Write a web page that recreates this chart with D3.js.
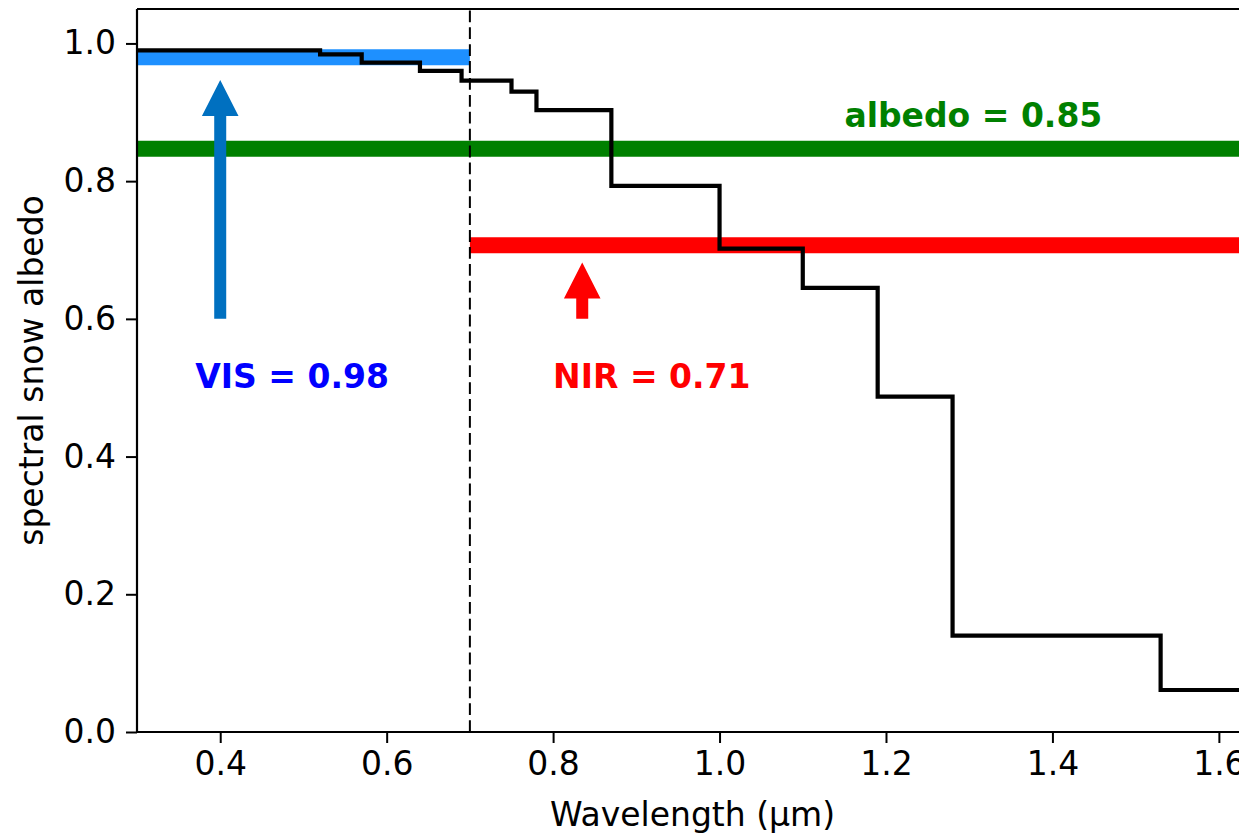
<!DOCTYPE html>
<html>
<head>
<meta charset="utf-8">
<script src="https://cdn.jsdelivr.net/npm/d3@7"></script>
<style>
  html, body { margin: 0; padding: 0; background: #fff; overflow: hidden; }
  svg { display: block; font-family: "DejaVu Sans", sans-serif; }
</style>
</head>
<body>
<svg id="chart" width="1239" height="835"></svg>
<script>
// ---- data ----
const stepEdges  = [0.30, 0.52, 0.57, 0.64, 0.69, 0.75, 0.78, 0.87, 1.00, 1.10, 1.19, 1.28, 1.53, 1.70];
const stepAlbedo = [0.990, 0.984, 0.972, 0.960, 0.946, 0.930, 0.903, 0.793, 0.702, 0.645, 0.487, 0.140, 0.061];
const xTicks = [0.4, 0.6, 0.8, 1.0, 1.2, 1.4, 1.6];
const yTicks = [0.0, 0.2, 0.4, 0.6, 0.8, 1.0];
const bandNames  = ["VIS", "NIR", "broadband"];
const bandValues = [0.980, 0.707, 0.847];
const bandStart  = [0.30, 0.70, 0.30];
const bandEnd    = [0.70, 1.70, 1.70];
const bandColors = ["#1e90ff", "#ff0000", "#008000"];
const splitWavelength = 0.7;
const arrowX    = [0.40, 0.835];
const arrowFrom = [0.60, 0.60];
const arrowTo   = [0.947, 0.682];
const arrowColors = ["#0070c0", "#ff0000"];
const labelTexts  = ["VIS = 0.98", "NIR = 0.71", "albedo = 0.85"];
const labelX      = [0.37, 0.80, 1.15];
const labelY      = [0.50, 0.50, 0.878];
const labelColors = ["#0000ff", "#ff0000", "#008000"];
const xDomain = [0.3, 1.635];
const yDomain = [0, 1.05];

(function () {
// ---- layout ----
const svg = d3.select("#chart");
const mL = 137, mR = 1248, mT = 9, mB = 732;
const x = d3.scaleLinear().domain(xDomain).range([mL, mR]);
const y = d3.scaleLinear().domain(yDomain).range([mB, mT]);
const FS = 33;

svg.append("defs").append("clipPath").attr("id", "clip")
  .append("rect").attr("x", mL).attr("y", mT).attr("width", mR - mL).attr("height", mB - mT);

const plot = svg.append("g").attr("clip-path", "url(#clip)");

// bands
bandValues.forEach((v, i) => {
  plot.append("line")
    .attr("x1", x(bandStart[i])).attr("x2", x(bandEnd[i]))
    .attr("y1", y(v)).attr("y2", y(v))
    .attr("stroke", bandColors[i]).attr("stroke-width", 16);
});

// dashed split line
plot.append("line")
  .attr("x1", x(splitWavelength)).attr("x2", x(splitWavelength))
  .attr("y1", y(yDomain[0])).attr("y2", y(yDomain[1]))
  .attr("stroke", "#000").attr("stroke-width", 2)
  .attr("stroke-dasharray", "11.8,5.1");

// step line
const stepPts = [];
stepAlbedo.forEach((a, i) => {
  stepPts.push([stepEdges[i], a]);
  stepPts.push([stepEdges[i + 1], a]);
});
const line = d3.line().x(d => x(d[0])).y(d => y(d[1]));
plot.append("path").attr("d", line(stepPts))
  .attr("fill", "none").attr("stroke", "#000").attr("stroke-width", 4.2)
  .attr("stroke-linejoin", "miter");

// arrows
const shaftW = 12, headW = 36.6, headL = 36;
arrowX.forEach((ax, i) => {
  const cx = x(ax), yb = y(arrowFrom[i]), yt = y(arrowTo[i]);
  const yh = yt + headL;
  const p = d3.path();
  p.moveTo(cx - shaftW / 2, yb);
  p.lineTo(cx - shaftW / 2, yh);
  p.lineTo(cx - headW / 2, yh);
  p.lineTo(cx, yt);
  p.lineTo(cx + headW / 2, yh);
  p.lineTo(cx + shaftW / 2, yh);
  p.lineTo(cx + shaftW / 2, yb);
  p.closePath();
  plot.append("path").attr("d", p.toString()).attr("fill", arrowColors[i]);
});

// labels
labelTexts.forEach((t, i) => {
  svg.append("text")
    .attr("x", x(labelX[i])).attr("y", y(labelY[i]))
    .attr("fill", labelColors[i])
    .attr("font-size", FS).attr("font-weight", "bold")
    .text(t);
});

// axes
const xAxis = d3.axisBottom(x).tickValues(xTicks).tickFormat(d3.format(".1f")).tickSize(11).tickPadding(9);
const yAxis = d3.axisLeft(y).tickValues(yTicks).tickFormat(d3.format(".1f")).tickSize(11).tickPadding(10);

const gx = svg.append("g").attr("transform", `translate(0,${mB})`).call(xAxis);
const gy = svg.append("g").attr("transform", `translate(${mL},0)`).call(yAxis);
[gx, gy].forEach(g => {
  g.select(".domain").remove();
  g.selectAll(".tick line").attr("stroke", "#000").attr("stroke-width", 2);
  g.selectAll(".tick text").attr("font-size", FS).attr("fill", "#000")
    .attr("font-family", "DejaVu Sans, sans-serif");
});

// spines
svg.append("line").attr("x1", mL).attr("x2", mR).attr("y1", mB).attr("y2", mB)
  .attr("stroke", "#000").attr("stroke-width", 2.2);
svg.append("line").attr("x1", mL).attr("x2", mR).attr("y1", mT).attr("y2", mT)
  .attr("stroke", "#000").attr("stroke-width", 2.2);
svg.append("line").attr("x1", mL).attr("x2", mL).attr("y1", mT).attr("y2", mB)
  .attr("stroke", "#000").attr("stroke-width", 2.2);

// axis titles
svg.append("text")
  .attr("x", (mL + mR) / 2).attr("y", 826)
  .attr("text-anchor", "middle").attr("font-size", FS).attr("fill", "#000")
  .text("Wavelength (μm)");
svg.append("text")
  .attr("transform", `translate(43,${(mT + mB) / 2}) rotate(-90)`)
  .attr("text-anchor", "middle").attr("font-size", FS).attr("fill", "#000")
  .text("spectral snow albedo");
})();
</script>
</body>
</html>
